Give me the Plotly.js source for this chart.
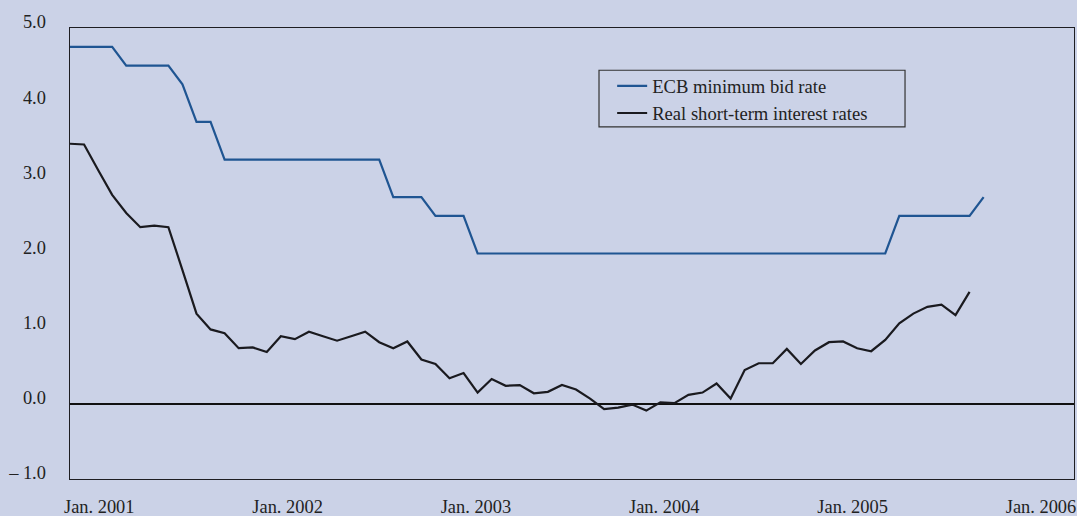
<!DOCTYPE html>
<html>
<head>
<meta charset="utf-8">
<script src="https://cdn.plot.ly/plotly-3.0.1.min.js"></script>
<style>
  html, body { margin: 0; padding: 0; background: #CBD2E7; }
  #chart { width: 1077px; height: 516px; }
</style>
</head>
<body>
<div id="chart"></div>
<script>
// Monthly observations starting January 2001 (index 0 = Jan. 2001)
var ecbMinimumBidRate = [
  4.75, 4.75, 4.75, 4.75, 4.50, 4.50, 4.50, 4.50, 4.25, 3.75, 3.75, 3.25,
  3.25, 3.25, 3.25, 3.25, 3.25, 3.25, 3.25, 3.25, 3.25, 3.25, 3.25, 2.75,
  2.75, 2.75, 2.50, 2.50, 2.50, 2.00, 2.00, 2.00, 2.00, 2.00, 2.00, 2.00,
  2.00, 2.00, 2.00, 2.00, 2.00, 2.00, 2.00, 2.00, 2.00, 2.00, 2.00, 2.00,
  2.00, 2.00, 2.00, 2.00, 2.00, 2.00, 2.00, 2.00, 2.00, 2.00, 2.00, 2.50,
  2.50, 2.50, 2.50, 2.50, 2.50, 2.75
];
var realShortTermRates = [
  3.46, 3.45, 3.11, 2.78, 2.54, 2.35, 2.37, 2.35, 1.78, 1.20, 0.99, 0.94,
  0.74, 0.75, 0.69, 0.90, 0.86, 0.96, 0.90, 0.84, 0.90, 0.96, 0.82, 0.74,
  0.83, 0.59, 0.53, 0.34, 0.41, 0.15, 0.33, 0.24, 0.25, 0.14, 0.16, 0.25,
  0.19, 0.07, -0.07, -0.05, -0.01, -0.09, 0.02, 0.01, 0.12, 0.15, 0.27, 0.07,
  0.45, 0.54, 0.54, 0.73, 0.53, 0.71, 0.82, 0.83, 0.74, 0.70, 0.85, 1.07,
  1.20, 1.29, 1.32, 1.18, 1.49
];
var seriesNames = ["ECB minimum bid rate", "Real short-term interest rates"];
var xTickLabels = ["Jan. 2001", "Jan. 2002", "Jan. 2003", "Jan. 2004", "Jan. 2005", "Jan. 2006"];
var xTickPositions = [2.08, 15.48, 28.88, 42.28, 55.68, 69.08];
var yTickValues = [-1, 0, 1, 2, 3, 4, 5];
var yTickLabels = ["\u2013\u20051.0", "0.0", "1.0", "2.0", "3.0", "4.0", "5.0"];

function monthIndex(arr) {
  var out = [];
  for (var i = 0; i < arr.length; i++) out.push(i);
  return out;
}

var bg = "#CBD2E7";
var fontFamily = "'Liberation Serif', 'Times New Roman', serif";

var traces = [
  {
    x: monthIndex(ecbMinimumBidRate),
    y: ecbMinimumBidRate,
    name: seriesNames[0],
    type: "scatter",
    mode: "lines",
    line: { color: "#1F5592", width: 2.2 }
  },
  {
    x: monthIndex(realShortTermRates),
    y: realShortTermRates,
    name: seriesNames[1],
    type: "scatter",
    mode: "lines",
    line: { color: "#1A1A1F", width: 2.2 }
  }
];

var layout = {
  width: 1077,
  height: 516,
  margin: { l: 70, r: 3, t: 28, b: 37, pad: 0 },
  paper_bgcolor: bg,
  plot_bgcolor: bg,
  font: { family: fontFamily, size: 18, color: "#222222" },
  showlegend: true,
  legend: {
    x: 0.540, y: 0.913, xanchor: "left", yanchor: "top",
    bgcolor: "rgba(0,0,0,0)", borderwidth: 0,
    font: { family: fontFamily, size: 18.6, color: "#222222" },
    itemwidth: 30
  },
  xaxis: {
    range: [0, 71.43],
    tickmode: "array",
    tickvals: xTickPositions,
    ticktext: xTickLabels,
    ticks: "",
    showgrid: false,
    zeroline: false,
    showline: true,
    linecolor: "#1E1E22",
    linewidth: 1.4,
    mirror: true,
    ticklabelstandoff: 11,
    tickfont: { family: fontFamily, size: 18.4, color: "#222222" }
  },
  yaxis: {
    range: [-1, 5],
    tickmode: "array",
    tickvals: yTickValues,
    ticktext: yTickLabels,
    ticks: "",
    showgrid: false,
    zeroline: true,
    zerolinecolor: "#111111",
    zerolinewidth: 1.4,
    showline: true,
    linecolor: "#1E1E22",
    linewidth: 1.4,
    mirror: true,
    ticklabelstandoff: 19,
    ticklabelshift: -6,
    tickfont: { family: fontFamily, size: 18.4, color: "#222222" }
  },
  shapes: [
    {
      type: "rect", xref: "paper", yref: "paper",
      x0: 0.5269, x1: 0.8317, y0: 0.7806, y1: 0.9063,
      line: { color: "#333333", width: 1.2 },
      fillcolor: "rgba(0,0,0,0)",
      layer: "below"
    }
  ]
};

Plotly.newPlot("chart", traces, layout, { displayModeBar: false, staticPlot: true });
</script>
</body>
</html>
